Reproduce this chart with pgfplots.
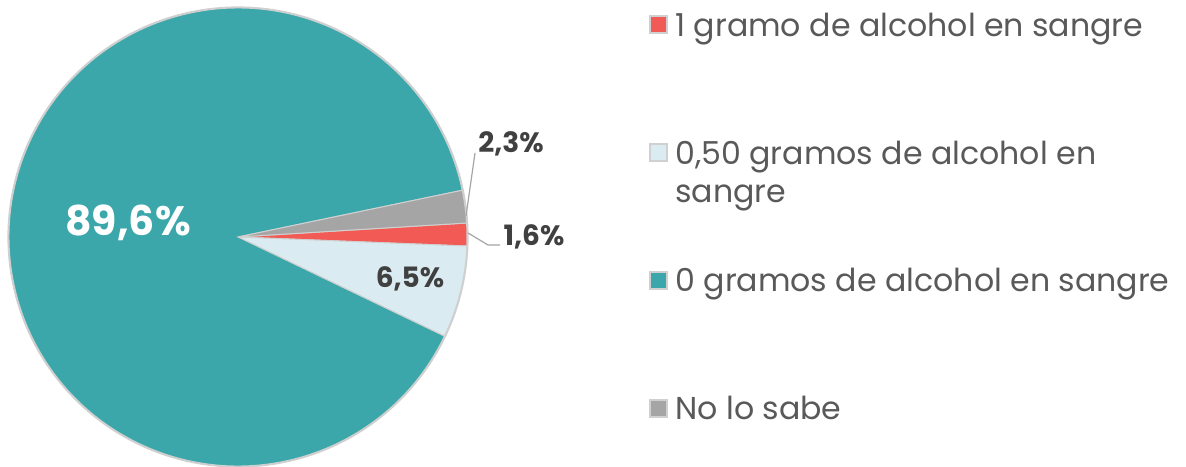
\documentclass[border=0pt]{standalone}
\usepackage{pgfplots}
\pgfplotsset{compat=1.18}
\usepackage{fontspec}
\setmainfont{Poppins}
\definecolor{cRed}{HTML}{F25A55}
\definecolor{cBlue}{HTML}{DAECF1}
\definecolor{cTeal}{HTML}{3BA7AA}
\definecolor{cGray}{HTML}{A5A5A5}
\definecolor{cEdge}{HTML}{D0D0D0}
\definecolor{cLeg}{HTML}{595959}
\definecolor{cLab}{HTML}{404040}
\begin{document}
\begin{tikzpicture}
% slice values (percent), clockwise from the start angle
\def\vA{1.6}% 1 gramo
\def\vB{6.5}% 0,50 gramos
\def\vC{89.6}% 0 gramos
\def\vD{2.3}% No lo sabe
\pgfmathsetmacro\aA{3.5}
\pgfmathsetmacro\aB{\aA-3.6*\vA}
\pgfmathsetmacro\aC{\aB-3.6*\vB}
\pgfmathsetmacro\aD{\aC-3.6*\vC}
\pgfmathsetmacro\aE{\aD-3.6*\vD}
\def\R{114.5pt}
\begin{axis}[x=0.5pt, y=0.5pt, xmin=0, xmax=1186, ymin=0, ymax=466,
  hide axis, clip=false, scale only axis, anchor=origin, at={(0,0)}]
\fill[cEdge] (axis cs:238,229) circle[radius=115.3pt];
\filldraw[fill=cRed, draw=cEdge, line width=0.5pt] (axis cs:238,229) -- ++(\aA:\R) arc[start angle=\aA, end angle=\aB, radius=\R] -- cycle;
\filldraw[fill=cBlue, draw=cEdge, line width=0.5pt] (axis cs:238,229) -- ++(\aB:\R) arc[start angle=\aB, end angle=\aC, radius=\R] -- cycle;
\filldraw[fill=cTeal, draw=cEdge, line width=0.5pt] (axis cs:238,229) -- ++(\aC:\R) arc[start angle=\aC, end angle=\aD, radius=\R] -- cycle;
\filldraw[fill=cGray, draw=cEdge, line width=0.5pt] (axis cs:238,229) -- ++(\aD:\R) arc[start angle=\aD, end angle=\aE, radius=\R] -- cycle;
% leader lines
\draw[cGray, line width=0.6pt] (axis cs:466,250) -- (axis cs:475,313);
\draw[cGray, line width=0.6pt] (axis cs:468,233) -- (axis cs:488,221) -- (axis cs:500,221);
% data labels
\node[text=white, font=\fontsize{20.5}{24}\selectfont\bfseries] at (axis cs:128,243) {89,6\%};
\node[text=cLab, font=\fontsize{14}{16}\selectfont\bfseries] at (axis cs:410,187) {6,5\%};
\node[text=cLab, font=\fontsize{14}{16}\selectfont\bfseries] at (axis cs:534,229) {1,6\%};
\node[text=cLab, font=\fontsize{14}{16}\selectfont\bfseries] at (axis cs:511,322) {2,3\%};
% legend
\filldraw[fill=cRed, draw=cEdge, line width=0.6pt] (axis cs:650,433) rectangle (axis cs:667,450);
\filldraw[fill=cBlue, draw=cEdge, line width=0.6pt] (axis cs:650,305) rectangle (axis cs:667,322);
\filldraw[fill=cTeal, draw=cEdge, line width=0.6pt] (axis cs:650,177) rectangle (axis cs:667,194);
\filldraw[fill=cGray, draw=cEdge, line width=0.6pt] (axis cs:650,49) rectangle (axis cs:667,66);
\node[anchor=base west, inner sep=0pt, text=cLeg, font=\fontsize{15.8}{19}\selectfont] at (axis cs:675,429) {1 gramo de alcohol en sangre};
\node[anchor=base west, inner sep=0pt, text=cLeg, font=\fontsize{15.8}{19}\selectfont] at (axis cs:675,301) {0,50 gramos de alcohol en};
\node[anchor=base west, inner sep=0pt, text=cLeg, font=\fontsize{15.8}{19}\selectfont] at (axis cs:675,263) {sangre};
\node[anchor=base west, inner sep=0pt, text=cLeg, font=\fontsize{15.8}{19}\selectfont] at (axis cs:675,175) {0 gramos de alcohol en sangre};
\node[anchor=base west, inner sep=0pt, text=cLeg, font=\fontsize{15.8}{19}\selectfont] at (axis cs:675,47) {No lo sabe};
\end{axis}
\pgfresetboundingbox
\path (0,0) rectangle (593pt,233pt);
\end{tikzpicture}
\end{document}
